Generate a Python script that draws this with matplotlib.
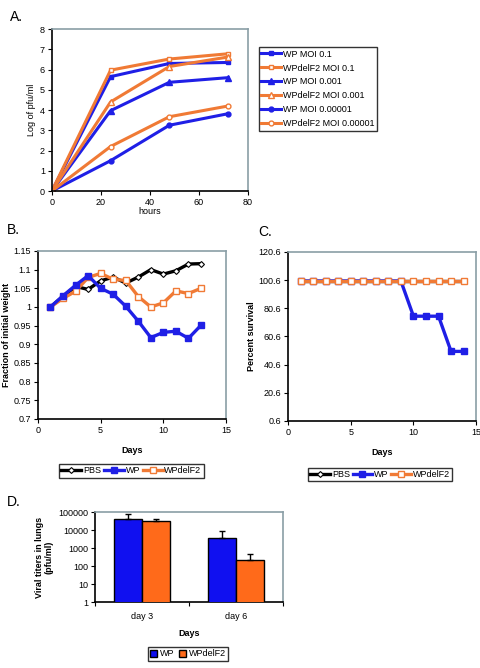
import numpy as np
import matplotlib
matplotlib.use("Agg")
from matplotlib import pyplot as plt
from matplotlib.ticker import FixedLocator, NullFormatter

plt.rcParams['font.family'] = ['Liberation Sans', 'DejaVu Sans']
plt.rcParams['font.size'] = 6.5

BLUE = "#1f1fe6"
ORANGE = "#f07a35"
BAR_BLUE = "#1010f0"
BAR_ORANGE = "#ff6a1a"
GRAY = "#8a9ea6"

# panel A - growth curves
hours = [0, 24, 48, 72]
wp_01 = [0, 5.65, 6.30, 6.35]
del_01 = [0, 5.97, 6.52, 6.78]
wp_0001 = [0, 3.97, 5.37, 5.60]
del_0001 = [0, 4.40, 6.15, 6.62]
wp_000001 = [0, 1.50, 3.25, 3.82]
del_000001 = [0, 2.20, 3.67, 4.20]

# panel B - weight
days_b = list(range(1, 14))
pbs_w = [1.0, 1.028, 1.055, 1.047, 1.07, 1.08, 1.064, 1.08, 1.1, 1.088, 1.097, 1.115, 1.116]
wp_w = [1.0, 1.03, 1.058, 1.084, 1.05, 1.034, 1.002, 0.962, 0.918, 0.932, 0.935, 0.916, 0.951]
del_w = [1.0, 1.023, 1.042, 1.079, 1.09, 1.074, 1.071, 1.028, 1.0, 1.011, 1.043, 1.036, 1.05]

# panel C - survival
days_c = list(range(1, 15))
pbs_s = [100] * 14
wp_s = [100, 100, 100, 100, 100, 100, 100, 100, 100, 75, 75, 75, 50, 50]
del_s = [100] * 14

# panel D - lung titers
titer_days = ["day 3", "day 6"]
wp_titer = [42500, 3600]
wp_titer_err = [35000, 5000]
del_titer = [30000, 215]
del_titer_err = [13000, 255]


def style_axes(ax):
    for s in ["top", "right"]:
        ax.spines[s].set_color(GRAY)
        ax.spines[s].set_linewidth(1.2)
    for s in ["left", "bottom"]:
        ax.spines[s].set_color("black")
        ax.spines[s].set_linewidth(1.2)
    ax.tick_params(direction="out", length=3, width=0.8, labelsize=6.5, pad=2)


def box_legend(leg):
    fr = leg.get_frame()
    fr.set_edgecolor("black")
    fr.set_linewidth(1.0)
    fr.set_boxstyle("square", pad=0)


fig = plt.figure(figsize=(4.8, 6.68), dpi=100)

# ---- A
axA = fig.add_axes([0.108, 0.714, 0.408, 0.2425])
style_axes(axA)
lw = 2.2
ms = 3.5
hA = []
hA += axA.plot(hours, wp_01, color=BLUE, lw=lw, marker="s", ms=ms, label="WP MOI 0.1")
hA += axA.plot(hours, del_01, color=ORANGE, lw=lw, marker="s", ms=ms, mfc="white", mew=1, label="WPdelF2 MOI 0.1")
hA += axA.plot(hours, wp_0001, color=BLUE, lw=lw, marker="^", ms=ms + 0.5, label="WP MOI 0.001")
hA += axA.plot(hours, del_0001, color=ORANGE, lw=lw, marker="^", ms=ms + 0.5, mfc="white", mew=1, label="WPdelF2 MOI 0.001")
hA += axA.plot(hours, wp_000001, color=BLUE, lw=lw, marker="o", ms=ms, label="WP MOI 0.00001")
hA += axA.plot(hours, del_000001, color=ORANGE, lw=lw, marker="o", ms=ms, mfc="white", mew=1, label="WPdelF2 MOI 0.00001")
axA.set_xlim(0, 80)
axA.set_ylim(0, 8)
axA.set_xticks(np.arange(0, 81, 20))
axA.set_yticks(np.arange(0, 9, 1))
axA.set_xlabel("hours", labelpad=0)
axA.set_ylabel("Log of pfu/ml", labelpad=3)
legA = fig.legend(handles=hA, loc="center", bbox_to_anchor=(0.6625, 0.8668),
                  fontsize=6.5, handlelength=2.2, handletextpad=0.2,
                  labelspacing=0.55, borderpad=0.25, fancybox=False)
box_legend(legA)
fig.text(0.02, 0.975, "A.", fontsize=10, va="center")

# ---- B
axB = fig.add_axes([0.079, 0.3728, 0.392, 0.2515])
style_axes(axB)
lwb = 2.4
msb = 4
hB = []
hB += axB.plot(days_b, pbs_w, color="black", lw=lwb, marker="D", ms=3, mfc="white", mew=0.8, label="PBS", zorder=2)
hB += axB.plot(days_b, wp_w, color=BLUE, lw=lwb, marker="s", ms=msb, label="WP", zorder=4)
hB += axB.plot(days_b, del_w, color=ORANGE, lw=lwb, marker="s", ms=msb, mfc="white", mew=1, label="WPdelF2", zorder=3)
axB.set_xlim(0, 15)
axB.set_ylim(0.7, 1.15)
axB.set_xticks([0, 5, 10, 15])
by = np.arange(0.7, 1.151, 0.05)
axB.set_yticks(by)
axB.set_yticklabels(["%g" % round(v, 2) for v in by])
axB.set_xlabel("Days", fontweight="bold", labelpad=8)
axB.set_ylabel("Fraction of initial weight", fontweight="bold", labelpad=2)
legB = fig.legend(handles=hB, loc="center", bbox_to_anchor=(0.274, 0.295), ncol=3,
                  fontsize=6.5, handlelength=2.2, handletextpad=0.2, columnspacing=0.3,
                  borderpad=0.25, fancybox=False)
box_legend(legB)
fig.text(0.015, 0.655, "B.", fontsize=10, va="center")

# ---- C
axC = fig.add_axes([0.6, 0.3698, 0.392, 0.253])
style_axes(axC)
hC = []
hC += axC.plot(days_c, pbs_s, color="black", lw=lwb, marker="D", ms=3, mfc="white", mew=0.8, label="PBS", zorder=2)
hC += axC.plot(days_c, wp_s, color=BLUE, lw=lwb, marker="s", ms=msb, label="WP", zorder=3)
hC += axC.plot(days_c, del_s, color=ORANGE, lw=lwb, marker="s", ms=msb, mfc="white", mew=1, label="WPdelF2", zorder=4)
axC.set_xlim(0, 15)
axC.set_ylim(0.6, 120.6)
axC.set_xticks([0, 5, 10, 15])
cy = np.arange(0.6, 120.7, 20)
axC.set_yticks(cy)
axC.set_yticklabels(["%.1f" % v for v in cy])
axC.set_xlabel("Days", fontweight="bold", labelpad=8)
axC.set_ylabel("Percent survival", fontweight="bold", labelpad=2)
legC = fig.legend(handles=hC, loc="center", bbox_to_anchor=(0.792, 0.29), ncol=3,
                  fontsize=6.5, handlelength=2.2, handletextpad=0.2, columnspacing=0.3,
                  borderpad=0.25, fancybox=False)
box_legend(legC)
fig.text(0.537, 0.652, "C.", fontsize=10, va="center")

# ---- D
axD = fig.add_axes([0.198, 0.0988, 0.392, 0.1347])
style_axes(axD)
x = np.arange(len(titer_days)) + 0.5
bw = 0.3
err_kw = dict(ecolor="black", elinewidth=1, capsize=2.5, capthick=1)
b1 = axD.bar(x - bw / 2, wp_titer, bw, yerr=[[0, 0], wp_titer_err], color=BAR_BLUE,
             edgecolor="black", linewidth=1, error_kw=err_kw, label="WP", zorder=3)
b2 = axD.bar(x + bw / 2, del_titer, bw, yerr=[[0, 0], del_titer_err], color=BAR_ORANGE,
             edgecolor="black", linewidth=1, error_kw=err_kw, label="WPdelF2", zorder=3)
axD.set_yscale("log")
axD.set_ylim(1, 100000)
axD.set_yticks([1, 10, 100, 1000, 10000, 100000])
axD.set_yticklabels(["1", "10", "100", "1000", "10000", "100000"])
axD.yaxis.set_minor_formatter(NullFormatter())
axD.tick_params(axis="y", which="minor", length=0)
axD.set_xlim(0, 2)
axD.set_xticks([0, 1, 2])
axD.set_xticklabels([])
axD.xaxis.set_minor_locator(FixedLocator(list(x)))
axD.set_xticks(x, minor=True)
axD.set_xticklabels(titer_days, minor=True)
axD.tick_params(axis="x", which="minor", length=0, pad=7, labelsize=6.5)
axD.set_xlabel("Days", fontweight="bold", labelpad=6)
axD.set_ylabel("Viral titers in lungs\n(pfu/ml)", fontweight="bold", labelpad=3)
legD = fig.legend(handles=[b1, b2], loc="center", bbox_to_anchor=(0.392, 0.021), ncol=2,
                  fontsize=6.5, handlelength=0.8, handleheight=0.8, handletextpad=0.3,
                  columnspacing=0.5, borderpad=0.25, fancybox=False)
box_legend(legD)
fig.text(0.015, 0.248, "D.", fontsize=10, va="center")

plt.savefig("out.png", dpi=100)
